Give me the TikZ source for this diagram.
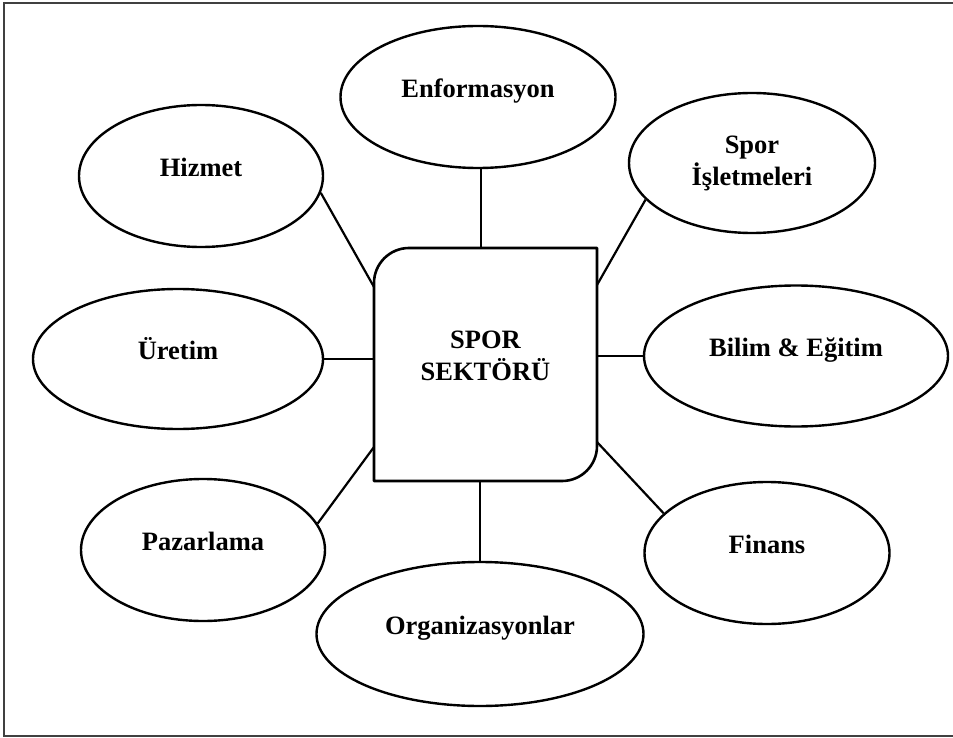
\documentclass[tikz,border=0pt]{standalone}
\usepackage{fontspec}
\setmainfont{Liberation Serif}
\usetikzlibrary{shapes.geometric,calc}
\begin{document}
\begin{tikzpicture}[x=1pt,y=-1pt,
  lbl/.style={font=\fontsize{26.5}{32}\selectfont\bfseries},
  oval/.style={ellipse, draw, line width=2.4pt, inner sep=0pt, lbl, text height=18pt, text depth=17pt},
  ovaltwo/.style={ellipse, draw, line width=2.4pt, inner sep=0pt, lbl, align=center},
  corebox/.style={rectangle, draw=none, inner sep=0pt, outer sep=0pt, lbl, minimum width=223pt, minimum height=233pt},
  boxline/.style={line width=2.6pt, line join=round},
  link/.style={line width=2.2pt},
  frame/.style={line width=1.8pt, draw=black!75}]
\useasboundingbox (0,0) rectangle (953,738);
\draw[frame] (953,3) -- (4,3) -- (4,736) -- (953,736);

% central box
\node[corebox] (core) at (485.5,364.5)
  {\raisebox{6pt}[\height][\depth]{\begin{tabular}{@{}c@{}}SPOR\\SEKT\"OR\"U\end{tabular}}};
\draw[boxline] (core.south west) -- ($(core.north west)+(0,35)$)
  .. controls ($(core.north west)+(0,15.7)$) and ($(core.north west)+(15.7,0)$) .. ($(core.north west)+(35,0)$)
  -- (core.north east) -- ($(core.south east)+(0,-35)$)
  .. controls ($(core.south east)+(0,-15.7)$) and ($(core.south east)+(-15.7,0)$) .. ($(core.south east)+(-35,0)$)
  -- cycle;

% ellipses
\node[oval, minimum width=275pt, minimum height=142pt] (enf) at (478,97) {Enformasyon};
\node[oval, minimum width=244pt, minimum height=142pt] (hiz) at (201,176) {Hizmet};
\node[ovaltwo, minimum width=246pt, minimum height=140pt] (spo) at (752,163) {Spor\\İşletmeleri};
\node[oval, minimum width=290pt, minimum height=140pt] (ure) at (178,359) {Üretim};
\node[oval, minimum width=304pt, minimum height=141pt] (bil) at (796,356) {Bilim \& Eğitim};
\node[oval, minimum width=244pt, minimum height=142pt] (paz) at (203,550) {Pazarlama};
\node[oval, minimum width=245pt, minimum height=142pt] (fin) at (767,553) {Finans};
\node[oval, minimum width=327pt, minimum height=144pt] (org) at (480,634) {Organizasyonlar};

% connectors
\draw[link] (enf.south -| {481,0}) -- ({481,0} |- core.north);
\draw[link] (hiz.-8) -- ($(core.north west)+(0,39)$);
\draw[link] (spo.-161) -- ($(core.north east)+(0,37)$);
\draw[link] (ure.east) -- (ure.east -| core.west);
\draw[link] (bil.west) -- (bil.west -| core.east);
\draw[link] (paz.13) -- ($(core.south west)+(0,-34)$);
\draw[link] (fin.159) -- ($(core.south east)+(0,-39)$);
\draw[link] (org.north) -- (org.north |- core.south);
\end{tikzpicture}
\end{document}
